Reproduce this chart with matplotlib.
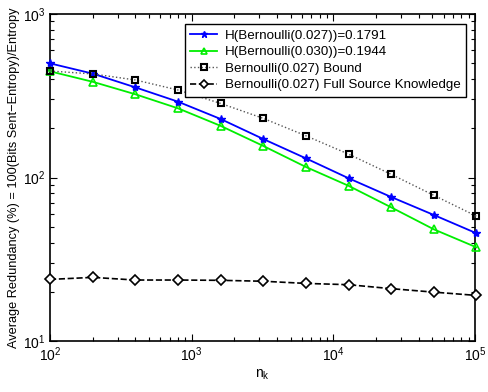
import matplotlib
matplotlib.use("Agg")
import matplotlib.pyplot as plt
from matplotlib.ticker import LogLocator, NullFormatter

plt.rcParams['font.family'] = ['Liberation Sans', 'DejaVu Sans']

n_k = [100, 200, 400, 800, 1600, 3200, 6400, 12800, 25600, 51200, 102400]
h027 = [499, 432, 356, 291, 228, 172, 131, 99, 76, 59, 45.6]
h030 = [446, 385, 323, 265, 207, 156, 116, 89, 65.7, 48.2, 37.4]
bound = [448, 430, 395, 343, 284, 230, 180, 139, 104.6, 77.8, 58]
full = [23.8, 24.5, 23.6, 23.6, 23.5, 23.2, 22.5, 22.1, 20.9, 19.9, 19.0]

labels = ['H(Bernoulli(0.027))=0.1791', 'H(Bernoulli(0.030))=0.1944',
          'Bernoulli(0.027) Bound', 'Bernoulli(0.027) Full Source Knowledge']

fig = plt.figure(figsize=(4.89, 3.92), dpi=100)
ax = fig.add_axes([50/489, 1-341/392, 425/489, 327/392])

ax.plot(n_k, h027, '-', color='#0000ff', marker='*', ms=6, lw=1.3, label=labels[0], clip_on=False, zorder=4)
ax.plot(n_k, h030, '-', color='#00ee00', marker='^', ms=6, mfc='none', mew=1.2, lw=1.3, label=labels[1], clip_on=False, zorder=3)
ax.plot(n_k, bound, ':', color='#555555', marker='s', ms=5, mfc='none', mec='black', mew=1.5, lw=1.0, label=labels[2], clip_on=False, zorder=5)
ax.plot(n_k, full, '--', color='black', marker='D', ms=5, mfc='white', mec='black', mew=1.2, lw=1.2, label=labels[3], clip_on=False, zorder=3)

ax.set_xscale('log')
ax.set_yscale('log')
ax.set_xlim(1e2, 1e5)
ax.set_ylim(1e1, 1e3)
ax.xaxis.set_major_locator(LogLocator(base=10, numticks=10))
ax.xaxis.set_minor_locator(LogLocator(base=10, subs=range(2, 10), numticks=30))
ax.yaxis.set_minor_locator(LogLocator(base=10, subs=range(2, 10), numticks=30))
ax.xaxis.set_minor_formatter(NullFormatter())
ax.yaxis.set_minor_formatter(NullFormatter())
ax.tick_params(which='both', direction='in', top=True, right=True, labelsize=10, width=0.8)
ax.tick_params(which='major', length=5)
ax.tick_params(which='minor', length=3)
for s in ax.spines.values():
    s.set_linewidth(1.2)

ax.set_xlabel('n$_\\mathregular{k}$', fontsize=10, labelpad=2)
ax.set_ylabel('Average Redundancy (%) = 100(Bits Sent\u2212Entropy)/Entropy', fontsize=9.2, labelpad=2)

leg = ax.legend(loc='upper right', bbox_to_anchor=(466/489, 1-24/392), bbox_transform=fig.transFigure,
                fontsize=9.6, frameon=True, fancybox=False, edgecolor='black', framealpha=1,
                handlelength=2.0, handletextpad=0.6, borderpad=0.4, labelspacing=0.32, borderaxespad=0,
                markerscale=0.8)
leg.get_frame().set_linewidth(1.0)

fig.savefig('out.png', dpi=100)
